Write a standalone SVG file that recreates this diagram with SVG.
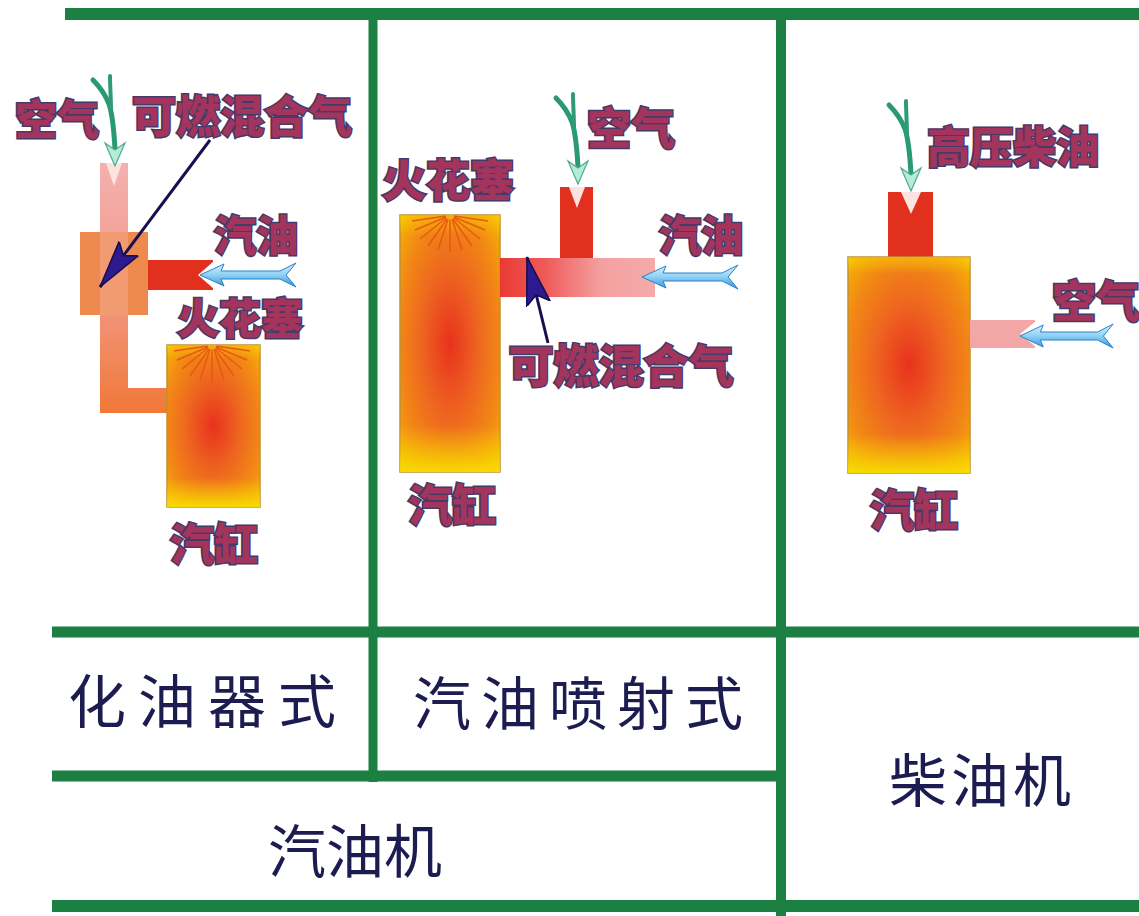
<svg xmlns="http://www.w3.org/2000/svg" width="1139" height="916" viewBox="0 0 1139 916">
  <style>
    .grid { stroke: #1b8042; fill: none; }
    .tag { font-family: "Noto Sans CJK SC", sans-serif; font-weight: 900; fill: #a3345c; stroke: #463a6a; stroke-width: 3; paint-order: stroke; text-anchor: middle; dominant-baseline: central; }
    .cap { font-family: "Noto Sans CJK SC", sans-serif; font-weight: 400; fill: #1c1c50; font-size: 58px; text-anchor: middle; dominant-baseline: central; }
    .cyl { stroke: #c09030; stroke-width: 1.5; fill: url(#flame); }
    .glow { fill: url(#rim); }
    .red { fill: #e2301e; }
    .notch { fill: #fbe4e0; }
    .rays line { stroke: #e85a14; stroke-width: 1.6; }
    .navy { stroke: #1a1050; stroke-width: 3; fill: none; marker-end: url(#navyHead); }
  </style>
  <defs>
    <radialGradient id="flame" cx="0.5" cy="0.5" r="0.72">
      <stop offset="0" stop-color="#e8321e"/>
      <stop offset="0.4" stop-color="#ee6620"/>
      <stop offset="0.72" stop-color="#f28a14"/>
      <stop offset="0.9" stop-color="#f5a80a"/>
      <stop offset="1" stop-color="#f8d000"/>
    </radialGradient>
    <linearGradient id="rim" x1="0" y1="0" x2="0" y2="1">
      <stop offset="0" stop-color="#f8d400" stop-opacity="0.55"/>
      <stop offset="0.08" stop-color="#f8d400" stop-opacity="0"/>
      <stop offset="0.82" stop-color="#f8d400" stop-opacity="0"/>
      <stop offset="1" stop-color="#f8dc00" stop-opacity="0.95"/>
    </linearGradient>
    <linearGradient id="carbPipe" gradientUnits="userSpaceOnUse" x1="0" y1="163" x2="0" y2="413">
      <stop offset="0" stop-color="#f4b0b0"/>
      <stop offset="0.5" stop-color="#f29a88"/>
      <stop offset="1" stop-color="#f07838"/>
    </linearGradient>
    <linearGradient id="injPipe" x1="0" y1="0" x2="1" y2="0">
      <stop offset="0" stop-color="#ea3a34"/>
      <stop offset="0.3" stop-color="#ee5c5a"/>
      <stop offset="0.65" stop-color="#f4a0a0"/>
      <stop offset="1" stop-color="#f4aaaa"/>
    </linearGradient>
    <linearGradient id="blueFill" x1="0" y1="0" x2="0" y2="1">
      <stop offset="0" stop-color="#d8f4ff"/>
      <stop offset="0.5" stop-color="#8ed0f4"/>
      <stop offset="1" stop-color="#2f96dc"/>
    </linearGradient>
    <marker id="navyHead" markerUnits="userSpaceOnUse" markerWidth="50" markerHeight="26" refX="48" refY="13" orient="auto">
      <path d="M0,1 L48,13 L0,25 L9,13 Z" fill="#2c1a8e" stroke="#160c50" stroke-width="1.5"/>
    </marker>
    <!-- feathered inlet arrow, tip at the origin, pointing left -->
    <path id="blueArrow" d="M0,0 L24,-11 L21,-4 L80,-4 L96,-12 L86,0 L96,12 L80,4 L21,4 L24,11 Z" fill="url(#blueFill)" stroke="#2a80c8" stroke-width="1"/>
    <!-- forked feed arrow, tip at the origin, pointing down -->
    <g id="greenArrow">
      <path d="M0,-17 C-1,-35 -2,-50 -6,-62 C-10,-72 -16,-80 -22,-86" stroke="#2a9a72" stroke-width="5" fill="none" stroke-linecap="round"/>
      <path d="M-4,-55 C-4,-68 -5,-80 -5,-90" stroke="#2f9a74" stroke-width="4" fill="none" stroke-linecap="round"/>
      <path d="M0,0 L-10,-23 L0,-16 L10,-23 Z" fill="#b4ecd4" stroke="#52a890" stroke-width="1.2"/>
    </g>
    <g id="spark" class="rays">
      <line x1="4" y1="1" x2="38" y2="6"/>
      <line x1="4" y1="2" x2="35" y2="15"/>
      <line x1="4" y1="3" x2="30" y2="24"/>
      <line x1="3" y1="4" x2="22" y2="31"/>
      <line x1="2" y1="4" x2="12" y2="35"/>
      <line x1="0" y1="5" x2="0" y2="37"/>
      <line x1="-2" y1="4" x2="-12" y2="35"/>
      <line x1="-3" y1="4" x2="-22" y2="31"/>
      <line x1="-4" y1="3" x2="-30" y2="24"/>
      <line x1="-4" y1="2" x2="-35" y2="15"/>
      <line x1="-4" y1="1" x2="-38" y2="6"/>
    </g>
  </defs>

  <rect width="1139" height="916" fill="#ffffff"/>

  <!-- table rules -->
  <g id="grid" class="grid">
    <line x1="65" y1="14" x2="1139" y2="14" stroke-width="12"/>
    <line x1="373" y1="14" x2="373" y2="782" stroke-width="9"/>
    <line x1="781" y1="14" x2="781" y2="916" stroke-width="10"/>
    <line x1="52" y1="632" x2="1139" y2="632" stroke-width="11"/>
    <line x1="52" y1="776" x2="781" y2="776" stroke-width="11"/>
    <line x1="52" y1="906" x2="1139" y2="906" stroke-width="12"/>
  </g>

  <!-- carburettor engine -->
  <g id="carburettor">
    <path d="M100,163 H128 V388 H167 V413 H100 Z" fill="url(#carbPipe)"/>
    <polygon class="notch" points="106,163 122,163 114,186"/>
    <rect x="80" y="232" width="68" height="83" fill="#ef8a4e"/>
    <rect x="100" y="232" width="28" height="83" fill="#f4a890" opacity="0.55"/>
    <rect class="red" x="148" y="260" width="65" height="30"/>
    <polygon points="214,261 198,275 214,289" fill="#ffffff"/>
    <rect id="carb-cylinder" class="cyl" x="167" y="345" width="93" height="162"/>
    <rect class="glow" x="167" y="345" width="93" height="162"/>
    <use href="#spark" x="212" y="345"/>
  </g>

  <!-- port injection engine -->
  <g id="injection">
    <rect class="cyl" x="400" y="215" width="100" height="257"/>
    <rect class="glow" x="400" y="215" width="100" height="257"/>
    <use href="#spark" x="450" y="215"/>
    <rect x="500" y="258" width="155" height="39" fill="url(#injPipe)"/>
    <rect class="red" x="560" y="187" width="33" height="71"/>
    <polygon class="notch" points="569,187 585,187 577,208"/>
  </g>

  <!-- diesel engine -->
  <g id="diesel">
    <rect class="red" x="888" y="192" width="45" height="65"/>
    <polygon class="notch" points="901,192 921,192 911,214"/>
    <rect class="cyl" x="848" y="257" width="122" height="216"/>
    <rect class="glow" x="848" y="257" width="122" height="216"/>
    <rect x="970" y="320" width="65" height="28" fill="#f3a6a6"/>
    <polygon points="1036,321 1020,334 1036,347" fill="#ffffff"/>
  </g>

  <!-- flow arrows -->
  <g id="connectors">
    <use href="#greenArrow" x="115" y="166"/>
    <use href="#greenArrow" x="578" y="184"/>
    <use href="#greenArrow" x="911" y="191"/>
    <use href="#blueArrow" x="200" y="275"/>
    <use href="#blueArrow" x="642" y="277"/>
    <use href="#blueArrow" transform="translate(1020,336) scale(0.97,1)"/>
    <line class="navy" x1="210" y1="140" x2="100" y2="287"/>
    <line class="navy" x1="548" y1="343" x2="527" y2="257"/>
  </g>

  <!-- part labels -->
  <g id="labels">
    <text class="tag" x="57" y="116" font-size="42">空气</text>
    <text class="tag" x="242" y="114" font-size="44">可燃混合气</text>
    <text class="tag" x="256" y="232" font-size="42">汽油</text>
    <text class="tag" x="240" y="315" font-size="42">火花塞</text>
    <text class="tag" x="214" y="542" font-size="44">汽缸</text>

    <text class="tag" x="448" y="178" font-size="44">火花塞</text>
    <text class="tag" x="631" y="126" font-size="44">空气</text>
    <text class="tag" x="701" y="232" font-size="42">汽油</text>
    <text class="tag" x="621" y="363" font-size="45">可燃混合气</text>
    <text class="tag" x="452" y="503" font-size="44">汽缸</text>

    <text class="tag" x="1013" y="144" font-size="43">高压柴油</text>
    <text class="tag" x="1096" y="299" font-size="44">空气</text>
    <text class="tag" x="914" y="508" font-size="44">汽缸</text>
  </g>

  <!-- table captions -->
  <g id="captions">
    <text class="cap" x="208" y="698" letter-spacing="12">化油器式</text>
    <text class="cap" x="583" y="700" letter-spacing="10">汽油喷射式</text>
    <text class="cap" x="355" y="848">汽油机</text>
    <text class="cap" x="982" y="777" letter-spacing="4">柴油机</text>
  </g>
</svg>
